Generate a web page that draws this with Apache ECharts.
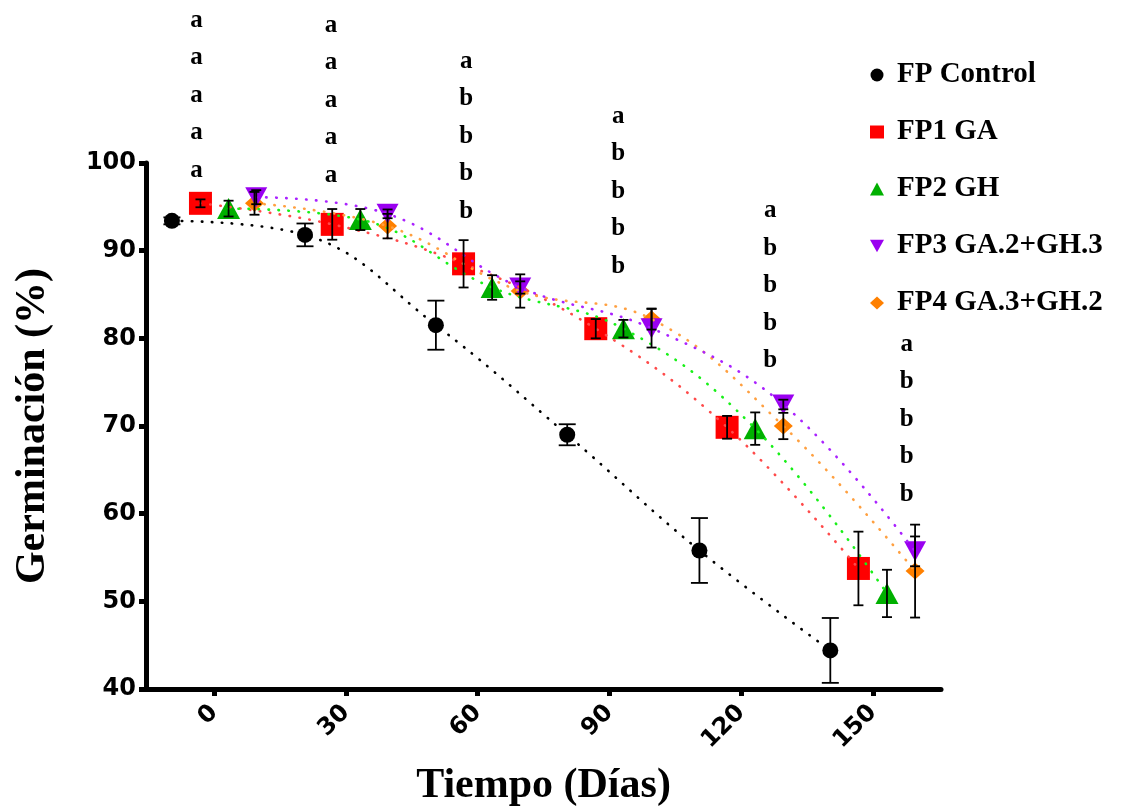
<!DOCTYPE html>
<html>
<head>
<meta charset="utf-8">
<title>Germinación</title>
<script src="https://cdn.jsdelivr.net/npm/echarts@6/dist/echarts.min.js"></script>
<style>
  html, body { margin: 0; padding: 0; background: #ffffff; }
  #chart { width: 1122px; height: 812px; }
</style>
</head>
<body>
<div id="chart"></div>
<script>
// Germination (%) over storage time, means ± SD per treatment
const controlX = [-9.6, 20.7, 50.5, 80.4, 110.5, 140.3];
const controlY = [93.4, 91.8, 81.5, 69.0, 55.8, 44.4];
const controlSD = [0.4, 1.3, 2.8, 1.2, 3.7, 3.7];

const fp1X = [-3.1, 26.9, 56.8, 86.9, 116.8, 146.7];
const fp1Y = [95.4, 93.0, 88.5, 81.1, 69.85, 53.75];
const fp1SD = [0.45, 1.75, 2.7, 1.1, 1.3, 4.2];

const fp2X = [3.3, 33.3, 63.3, 93.2, 123.2, 153.2];
const fp2Y = [94.8, 93.55, 85.8, 81.1, 69.7, 50.9];
const fp2SD = [0.9, 1.2, 1.4, 1.0, 1.85, 2.7];

const fp3X = [9.6, 39.5, 69.7, 99.6, 129.6, 159.6];
const fp3Y = [96.1, 94.2, 85.8, 81.15, 72.45, 55.7];
const fp3SD = [0.8, 0.5, 0.7, 2.2, 0.55, 1.7];

const fp4X = [9.2, 39.5, 69.7, 99.6, 129.6, 159.6];
const fp4Y = [95.4, 92.8, 85.4, 82.2, 70.0, 53.45];
const fp4SD = [1.3, 1.4, 1.9, 1.2, 1.5, 5.3];

const xTicks = [0, 30, 60, 90, 120, 150];

// significance letters: one column per sampling time (x, value of the top letter)
const letterX = [-4, 26.6, 57.4, 92, 126.6, 157.7];
const letterTop = [116.25, 115.68, 111.6, 105.34, 94.55, 79.32];
const letterCols = [
  ['a', 'a', 'a', 'a', 'a'],
  ['a', 'a', 'a', 'a', 'a'],
  ['a', 'b', 'b', 'b', 'b'],
  ['a', 'b', 'b', 'b', 'b'],
  ['a', 'b', 'b', 'b', 'b'],
  ['a', 'b', 'b', 'b', 'b']
];

const groups = [
  { name: 'FP Control', x: controlX, y: controlY, sd: controlSD,
    marker: '#000000', line: '#000000', symbol: 'circle', size: 16, rotate: 0, cap: 17 },
  { name: 'FP1 GA', x: fp1X, y: fp1Y, sd: fp1SD,
    marker: '#ff0000', line: '#ff4a4a', symbol: 'rect', size: [23, 23], rotate: 0, cap: 10 },
  { name: 'FP2 GH', x: fp2X, y: fp2Y, sd: fp2SD,
    marker: '#00b000', line: '#18f018', symbol: 'triangle', size: [23, 21], rotate: 0, cap: 10 },
  { name: 'FP4 GA.3+GH.2', x: fp4X, y: fp4Y, sd: fp4SD,
    marker: '#ff8000', line: '#ffa040', symbol: 'diamond', size: [19, 17], rotate: 0, cap: 10 },
  { name: 'FP3 GA.2+GH.3', x: fp3X, y: fp3Y, sd: fp3SD,
    marker: '#9a00f0', line: '#aa22ff', symbol: 'triangle', size: [22, 20], rotate: 180, cap: 10 }
];

const serif = 'Liberation Serif, Times New Roman, serif';
const sans = 'DejaVu Sans, Liberation Sans, Arial, sans-serif';

const series = [];

// markers
groups.forEach(function (g, gi) {
  const pts = g.x.map(function (x, i) { return [x, g.y[i]]; });
  series.push({
    name: g.name,
    type: 'scatter',
    data: pts,
    symbol: g.symbol,
    symbolSize: g.size,
    symbolRotate: g.rotate,
    itemStyle: { color: g.marker, opacity: 1 },
    z: 2 + gi * 0.01,
    silent: true
  });
});

// dotted trend curves
groups.forEach(function (g) {
  const pts = g.x.map(function (x, i) { return [x, g.y[i]]; });
  series.push({
    name: g.name + ' (ajuste)',
    type: 'line',
    data: pts,
    smooth: 0.4,
    symbol: 'none',
    lineStyle: { color: g.line, width: 2.6, type: [0.5, 9.5], cap: 'round' },
    z: 3,
    silent: true
  });
});

// error bars (mean ± SD)
groups.forEach(function (g) {
  const bars = g.x.map(function (x, i) { return [x, g.y[i] - g.sd[i], g.y[i] + g.sd[i]]; });
  const half = g.cap / 2;
  series.push({
    name: g.name + ' (DE)',
    type: 'custom',
    data: bars,
    encode: { x: 0, y: [1, 2] },
    z: 4,
    silent: true,
    renderItem: function (params, api) {
      const x = api.value(0);
      const lo = api.coord([x, api.value(1)]);
      const hi = api.coord([x, api.value(2)]);
      const style = { stroke: '#000000', lineWidth: 1.8, fill: null };
      return {
        type: 'group',
        children: [
          { type: 'line', shape: { x1: lo[0], y1: lo[1], x2: hi[0], y2: hi[1] }, style: style },
          { type: 'line', shape: { x1: lo[0] - half, y1: lo[1], x2: lo[0] + half, y2: lo[1] }, style: style },
          { type: 'line', shape: { x1: hi[0] - half, y1: hi[1], x2: hi[0] + half, y2: hi[1] }, style: style }
        ]
      };
    }
  });
});

const chart = echarts.init(document.getElementById('chart'), null, { renderer: 'canvas' });
chart.setOption({
  backgroundColor: '#ffffff',
  animation: false,
  grid: { left: 146, right: 181, top: 163, bottom: 121, containLabel: false },
  legend: {
    orient: 'vertical',
    left: 865,
    top: 55,
    itemWidth: 14,
    itemHeight: 13,
    itemGap: 27,
    selectedMode: false,
    data: [
      { name: 'FP Control', icon: 'circle' },
      { name: 'FP1 GA', icon: 'rect' },
      { name: 'FP2 GH', icon: 'triangle' },
      { name: 'FP3 GA.2+GH.3', icon: 'path://M0,0L20,0L10,18Z' },
      { name: 'FP4 GA.3+GH.2', icon: 'diamond' }
    ],
    textStyle: {
      fontFamily: serif,
      fontWeight: 'bold',
      fontSize: 29,
      lineHeight: 30,
      color: '#000000',
      padding: [0, 0, 0, 8]
    }
  },
  xAxis: {
    type: 'value',
    min: -15.5,
    max: 165.5,
    name: 'Tiempo (Días)',
    nameLocation: 'middle',
    nameGap: 76,
    nameTextStyle: { fontFamily: serif, fontWeight: 'bold', fontSize: 42, color: '#000000' },
    axisLine: { show: true, onZero: false, lineStyle: { color: '#000000', width: 5 } },
    axisTick: { show: true, length: 7, lineStyle: { color: '#000000', width: 5 }, customValues: xTicks },
    axisLabel: {
      customValues: xTicks,
      rotate: 45,
      margin: 20,
      fontFamily: sans,
      fontWeight: 'bold',
      fontSize: 24,
      color: '#000000'
    },
    splitLine: { show: false }
  },
  yAxis: {
    type: 'value',
    min: 40,
    max: 100,
    interval: 10,
    name: 'Germinación (%)',
    nameLocation: 'middle',
    nameGap: 92,
    nameTextStyle: { fontFamily: serif, fontWeight: 'bold', fontSize: 42, color: '#000000' },
    axisLine: { show: true, onZero: false, lineStyle: { color: '#000000', width: 5 } },
    axisTick: { show: true, length: 7, lineStyle: { color: '#000000', width: 5 } },
    axisLabel: {
      margin: 10,
      fontFamily: sans,
      fontWeight: 'bold',
      fontSize: 24,
      color: '#000000'
    },
    splitLine: { show: false }
  },
  series: series
});

// significance letter columns, placed through the chart's own axes
const letterGraphics = letterX.map(function (x, i) {
  const p = chart.convertToPixel({ gridIndex: 0 }, [x, letterTop[i]]);
  return {
    type: 'text',
    x: p[0],
    y: p[1] - 18.75,
    z: 10,
    silent: true,
    style: {
      text: letterCols[i].join('\n'),
      fontFamily: serif,
      fontWeight: 'bold',
      fontSize: 25,
      lineHeight: 37.5,
      fill: '#000000',
      align: 'center',
      verticalAlign: 'top'
    }
  };
});
chart.setOption({ graphic: letterGraphics });
</script>
</body>
</html>
